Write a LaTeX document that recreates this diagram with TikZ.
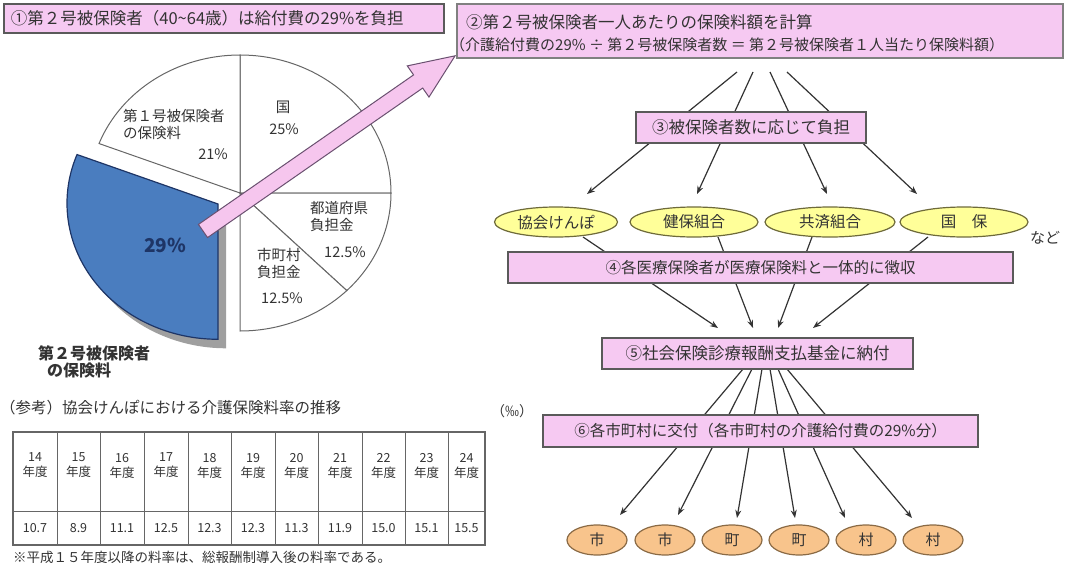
\documentclass[tikz,border=0pt]{standalone}
\usepackage{fontspec}
\setmainfont{Noto Sans CJK JP}
\usetikzlibrary{shapes.geometric,arrows.meta}
\definecolor{pinkbox}{HTML}{F6C9F2}
\definecolor{boxline}{HTML}{5A5A5A}
\definecolor{yell}{HTML}{FFFF99}
\definecolor{yellline}{HTML}{6E6A3A}
\definecolor{orng}{HTML}{F8C48C}
\definecolor{orngline}{HTML}{8A6A45}
\definecolor{pieblue}{HTML}{4A7DBF}
\definecolor{pienavy}{HTML}{1E3566}
\definecolor{txt}{HTML}{333333}
\definecolor{flowline}{HTML}{333333}
\definecolor{arrpink}{HTML}{F6C6EE}
\definecolor{arrpinkline}{HTML}{6A5070}
\definecolor{pieline}{HTML}{666666}
\newcommand{\fsz}[2]{\fontsize{#1}{#2}\selectfont}
\tikzset{
  stepbox/.style={draw=boxline, line width=1.5pt, fill=pinkbox, inner sep=0pt, text=txt},
  yellip/.style={ellipse, draw=yellline, line width=1.2pt, fill=yell, inner sep=0pt, minimum height=30pt, text=txt, font=\fsz{15.5}{17}},
  orellip/.style={ellipse, draw=orngline, line width=1.2pt, fill=orng, inner sep=0pt, minimum width=60pt, minimum height=30pt, text=txt, font=\fsz{15}{17}},
  flow/.style={draw=flowline, line width=1.2pt},
  flowarr/.style={flow, -{Stealth[length=8pt,width=6pt]}},
  pieslice/.style={draw=pieline, line width=1pt, fill=white},
  pielbl/.style={inner sep=0pt, text=txt, font=\fsz{14.5}{17}},
  txtnode/.style={inner sep=0pt, text=txt},
  tabline/.style={draw=pieline, line width=0.9pt},
  cell/.style={inner sep=0pt, text=txt, align=center, font=\fsz{12.5}{15}}
}
\begin{document}
\begin{tikzpicture}[x=1pt,y=1pt]
\useasboundingbox (0,0) rectangle (1067,-562);
\clip (0,0) rectangle (1067,-562);

% ---------- pie chart ----------
\filldraw[pieslice] (240,-193) -- (240,-55) arc[start angle=90,end angle=0,x radius=151,y radius=138] -- cycle;
\filldraw[pieslice] (240,-193) -- (240,-55) arc[start angle=90,end angle=159,x radius=151,y radius=138] -- cycle;
\filldraw[pieslice] (240,-193) -- (391,-193) arc[start angle=0,end angle=-45,x radius=151,y radius=138] -- cycle;
\filldraw[pieslice] (240,-193) -- ++(-45:151 and 138) arc[start angle=-45,end angle=-90,x radius=151,y radius=138] -- cycle;
\fill[gray!75] (226,-213) -- ++(159:151 and 138) arc[start angle=159,end angle=270,x radius=151,y radius=136] -- cycle;
\filldraw[fill=pieblue, draw=pienavy, line width=1.2pt] (218,-204) -- ++(159:151 and 138) arc[start angle=159,end angle=270,x radius=151,y radius=136] -- cycle;

\node[pielbl, anchor=west, align=left] (l1) at (123,-124.5) {第１号被保険者\\の保険料};
\node[pielbl, anchor=east] (l1p) at (228,-154) {21\%};
\node[pielbl] (l2) at (283,-107) {国};
\node[pielbl] (l2p) at (284,-129) {25\%};
\node[pielbl, anchor=west, align=left] (l3) at (310,-216.5) {都道府県\\負担金};
\node[pielbl] (l3p) at (345,-252) {12.5\%};
\node[pielbl, anchor=west, align=left] (l4) at (257,-263.5) {市町村\\負担金};
\node[pielbl] (l4p) at (282,-298) {12.5\%};
\node[txtnode, text=pienavy, font=\fsz{19}{21}\bfseries] (l5) at (165,-245) {29\%};
\node[txtnode, anchor=west, align=left, font=\fsz{16}{17}\bfseries] (l6) at (38,-361.5) {第２号被保険者\\\hspace*{9pt}の保険料};

% ---------- pink block arrow ----------
\begin{scope}[shift={(203,-231)}, rotate=34.8]
\filldraw[fill=arrpink, draw=arrpinkline, line width=1pt] (0,-8) -- (262,-8) -- (262,-19) -- (307,0) -- (262,19) -- (262,8) -- (0,8) -- cycle;
\end{scope}

% ---------- table ----------
\node[txtnode, anchor=west, font=\fsz{15.5}{17}] (ttl) at (0,-408) {（参考）協会けんぽにおける介護保険料率の推移};
\node[txtnode, font=\fsz{14}{15}] (permil) at (512,-411) {（‰）};
\draw[tabline, line width=1.4pt] (13,-432) rectangle (485,-545);
\draw[tabline] (13,-511) -- (485,-511);
\foreach \xx in {57,100,144,188,231,275,318,362,405,448} {
  \draw[tabline] (\xx,-432) -- (\xx,-545);
}
\foreach \i/\yr/\val/\xa/\xb in {1/14/10.7/13/57, 2/15/8.9/57/100, 3/16/11.1/100/144, 4/17/12.5/144/188, 5/18/12.3/188/231, 6/19/12.3/231/275, 7/20/11.3/275/318, 8/21/11.9/318/362, 9/22/15.0/362/405, 10/23/15.1/405/448, 11/24/15.5/448/485} {
  \node[cell] (h\i) at ({(\xa+\xb)/2},-465.5) {\yr\\年度};
  \node[cell] (v\i) at ({(\xa+\xb)/2},-528) {\val};
}
\node[txtnode, anchor=west, font=\fsz{13.5}{15}] (note) at (13,-557) {※平成１５年度以降の料率は、総報酬制導入後の料率である。};

% ---------- flow coordinates ----------
\coordinate (a1s) at (737,-72);  \coordinate (a1e) at (587,-194);
\coordinate (a2s) at (753,-72);  \coordinate (a2e) at (697,-194);
\coordinate (a3s) at (770,-72);  \coordinate (a3e) at (827,-194);
\coordinate (a4s) at (787,-72);  \coordinate (a4e) at (917,-194);
\coordinate (c1s) at (583,-237); \coordinate (c1e) at (718,-328);
\coordinate (c2s) at (718,-237); \coordinate (c2e) at (753,-328);
\coordinate (c3s) at (812,-237); \coordinate (c3e) at (778,-328);
\coordinate (c4s) at (928,-237); \coordinate (c4e) at (813,-328);
\coordinate (d1s) at (743,-369); \coordinate (d1e) at (620,-515);
\coordinate (d2s) at (752,-369); \coordinate (d2e) at (678,-515);
\coordinate (d3s) at (762,-369); \coordinate (d3e) at (737,-518);
\coordinate (d4s) at (770,-369); \coordinate (d4e) at (795,-518);
\coordinate (d5s) at (778,-369); \coordinate (d5e) at (845,-518);
\coordinate (d6s) at (787,-369); \coordinate (d6e) at (912,-518);
\foreach \p in {a1,a2,a3,a4,c1,c2,c3,c4,d1,d2,d3,d4,d5,d6} {
  \draw[flowarr] (\p s) -- (\p e);
}

% ---------- boxes ----------
\node[stepbox, anchor=north west, minimum height=29pt, text width=426pt, inner xsep=7pt, align=left, font=\fsz{16.5}{18}, line width=1.8pt] (b1) at (3,-3) {①第２号被保険者（40\textasciitilde 64歳）は給付費の29\%を負担};
\node[stepbox, anchor=north west, minimum width=606pt, minimum height=54pt, draw=gray] (b2) at (456,-3) {};
\node[txtnode, anchor=west, font=\fsz{16.5}{18}] (b2t) at (466,-22) {②第２号被保険者一人あたりの保険料額を計算};
\node[txtnode, anchor=west, font=\fsz{15}{17}] (b2u) at (450,-45) {（介護給付費の29\% ÷ 第２号被保険者数 ＝ 第２号被保険者１人当たり保険料額）};
\node[stepbox, minimum width=230pt, minimum height=31pt, font=\fsz{16.5}{18}] (b3) at (751,-127.5) {③被保険者数に応じて負担};
\node[stepbox, minimum width=505pt, minimum height=31pt, font=\fsz{15.5}{17}] (b4) at (760.5,-267.5) {④各医療保険者が医療保険料と一体的に徴収};
\node[stepbox, minimum width=311pt, minimum height=31pt, font=\fsz{16.5}{18}] (b5) at (757.5,-353.5) {⑤社会保険診療報酬支払基金に納付};
\node[stepbox, minimum width=435pt, minimum height=32pt, font=\fsz{15.5}{17}] (b6) at (760.5,-431) {⑥各市町村に交付（各市町村の介護給付費の29\%分）};

% ---------- insurers ----------
\node[yellip, minimum width=123pt] (k1) at (556,-222) {協会けんぽ};
\node[yellip, minimum width=128pt] (k2) at (694,-222) {健保組合};
\node[yellip, minimum width=130pt] (k3) at (830,-222) {共済組合};
\node[yellip, minimum width=128pt] (k4) at (964,-222) {国　保};
\node[txtnode, font=\fsz{15}{17}] (nado) at (1045,-238) {など};

% ---------- municipalities ----------
\node[orellip] (m1) at (597,-540) {市};
\node[orellip] (m2) at (665,-540) {市};
\node[orellip] (m3) at (732,-540) {町};
\node[orellip] (m4) at (799,-540) {町};
\node[orellip] (m5) at (866,-540) {村};
\node[orellip] (m6) at (933,-540) {村};
\end{tikzpicture}
\end{document}
